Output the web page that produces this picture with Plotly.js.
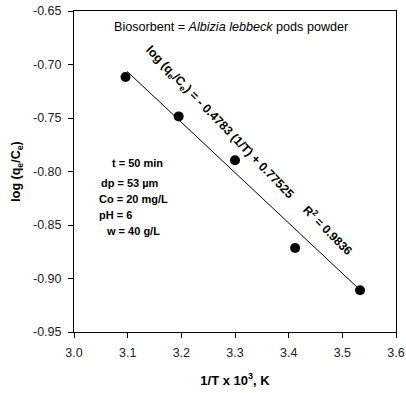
<!DOCTYPE html>
<html><head><meta charset="utf-8">
<script src="https://cdn.plot.ly/plotly-3.0.1.min.js"></script>
<style>body{margin:0;background:#fff}#c{width:406px;height:393px}</style>
</head><body><div id="c"></div>
<script>
const invT = [3.096, 3.195, 3.300, 3.412, 3.533];
const logQC = [-0.7117, -0.7485, -0.7895, -0.8715, -0.9110];
const fitX = [3.099, 3.533];
const fitY = [-0.7065, -0.9107];
const xTicks = [3.0, 3.1, 3.2, 3.3, 3.4, 3.5, 3.6];
const yTicks = [-0.95, -0.90, -0.85, -0.80, -0.75, -0.70, -0.65];
const F = 'Liberation Sans, Arial, sans-serif';

const traces = [
  {x: fitX, y: fitY, mode: 'lines', line: {color: '#000', width: 1}, hoverinfo: 'skip'},
  {x: invT, y: logQC, mode: 'markers', marker: {color: '#000', size: 10}}
];
const cond = [
  ['t = 50 min', 3.0675, -0.7925],
  ['dp = 53 µm', 3.047, -0.8103],
  ['Co = 20 mg/L', 3.043, -0.8253],
  ['pH = 6', 3.043, -0.8403],
  ['w = 40 g/L', 3.056, -0.8553]
];
const ann = [
  {x: 3.292, y: -0.665, text: 'Biosorbent = <i>Albizia lebbeck</i> pods powder', font: {size: 12.6, family: F, color: '#000'}},
  {x: 3.271, y: -0.7545, text: '<b>log (q<sub>e</sub>/C<sub>e</sub>) = - 0.4783 (1/T) + 0.77525</b>', textangle: 46, font: {size: 12.3, family: F, color: '#000'}},
  {x: 3.474, y: -0.855, text: '<b>R<sup>2</sup> = 0.9836</b>', textangle: 45, font: {size: 12, family: F, color: '#000'}}
].concat(cond.map(c => ({x: c[1], y: c[2], text: '<b>' + c[0] + '</b>', xanchor: 'left', font: {size: 11, family: F, color: '#000'}})));
ann.forEach(a => { a.xref = 'x'; a.yref = 'y'; a.showarrow = false; });

const layout = {
  width: 406, height: 393,
  margin: {l: 74, r: 10, t: 11, b: 61},
  paper_bgcolor: '#fff', plot_bgcolor: '#fff',
  showlegend: false,
  font: {family: F, size: 12, color: '#222'},
  xaxis: {range: [3.0, 3.6], tickvals: xTicks, ticktext: xTicks.map(v => v.toFixed(1)),
    showgrid: false, zeroline: false, showline: true, mirror: true, linecolor: '#000', linewidth: 1,
    ticks: 'outside', ticklen: 5, tickcolor: '#000', ticklabelstandoff: 4,
    tickfont: {size: 12.5, family: F, color: '#222'},
    title: {text: '<b>1/T x 10<sup>3</sup>, K</b>', standoff: 16, font: {size: 13, family: F, color: '#000'}}},
  yaxis: {range: [-0.95, -0.65], tickvals: yTicks, ticktext: yTicks.map(v => v.toFixed(2)),
    showgrid: false, zeroline: false, showline: true, mirror: true, linecolor: '#000', linewidth: 1,
    ticks: 'outside', ticklen: 5, tickcolor: '#000', ticklabelstandoff: 4,
    tickfont: {size: 12.5, family: F, color: '#222'},
    title: {text: '<b>log (q<sub>e</sub>/C<sub>e</sub>)</b>', standoff: 9, font: {size: 12.5, family: F, color: '#000'}}},
  annotations: ann
};
Plotly.newPlot('c', traces, layout, {staticPlot: true, displayModeBar: false});
</script></body></html>
